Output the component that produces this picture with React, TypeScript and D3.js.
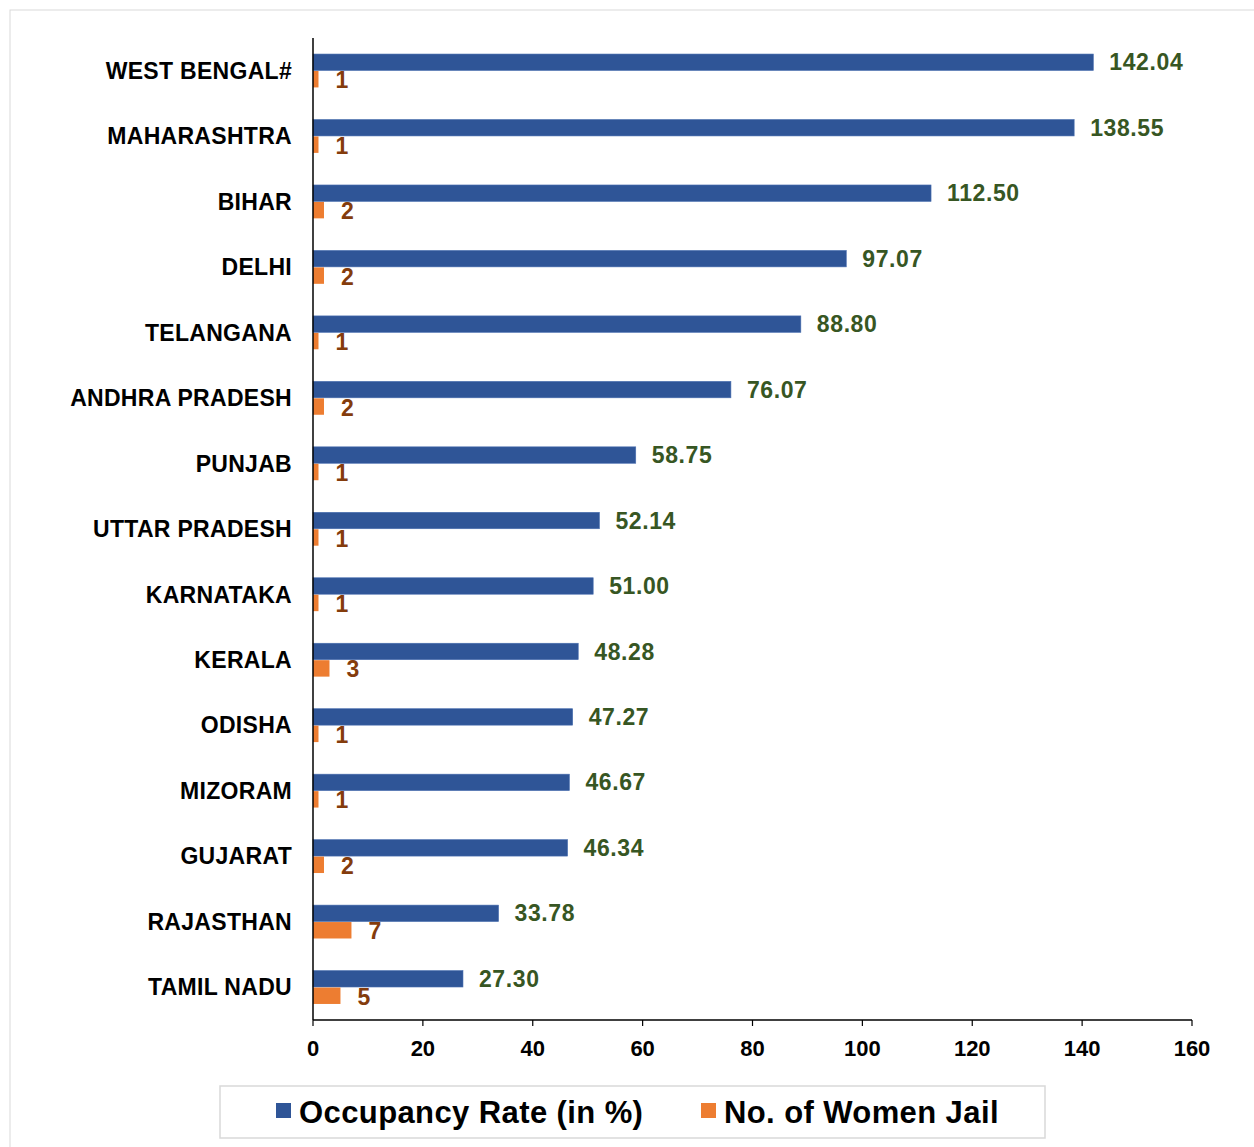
import React from "react";
import * as d3 from "d3";

const states = ["WEST BENGAL#","MAHARASHTRA","BIHAR","DELHI","TELANGANA","ANDHRA PRADESH","PUNJAB","UTTAR PRADESH","KARNATAKA","KERALA","ODISHA","MIZORAM","GUJARAT","RAJASTHAN","TAMIL NADU"];
const occupancy = [142.04,138.55,112.50,97.07,88.80,76.07,58.75,52.14,51.00,48.28,47.27,46.67,46.34,33.78,27.30];
const womenJails = [1,1,2,2,1,2,1,1,1,3,1,1,2,7,5];
const xTicks = [0,20,40,60,80,100,120,140,160];
const seriesNames = ["Occupancy Rate (in %)", "No. of Women Jail"];

const W = 1254, H = 1147;
const left = 313, right = 1192, top = 38, bottom = 1020;
const BLUE = "#2f5597", ORANGE = "#ed7d31";
const FONT = "'Liberation Sans', Arial, sans-serif";

export default function App() {
  const x = d3.scaleLinear().domain([0, 160]).range([left, right]);
  const y = d3.scaleBand().domain(states).range([top, bottom]).paddingInner(0.49).paddingOuter(0.245);
  const sub = d3.scaleBand().domain(["a","b"]).range([0, y.bandwidth()]).paddingInner(0.03);
  return (
    <svg width={W} height={H} style={{ position: "absolute", left: 0, top: 0, background: "#fff" }} fontFamily={FONT}>
      <rect x={10} y={10} width={1270} height={1160} fill="#fff" stroke="#d9d9d9" strokeWidth={1} />
      {states.map((s, i) => {
        const y0 = y(s)!;
        const ya = y0 + sub("a")!, yb = y0 + sub("b")!;
        const bh = sub.bandwidth();
        const cy = y0 + y.bandwidth() / 2;
        return (
          <g key={s}>
            <rect x={x(0)} y={ya} width={x(occupancy[i]) - x(0)} height={bh} fill={BLUE} stroke="#4a6fb0" strokeWidth={0.6} />
            <rect x={x(0)} y={yb} width={x(womenJails[i]) - x(0)} height={bh} fill={ORANGE} />
            <text x={x(occupancy[i]) + 16} y={ya + bh / 2} dy="0.35em" fontSize={23} letterSpacing={0.6} fontWeight="bold" fill="#375623">{occupancy[i].toFixed(2)}</text>
            <text x={x(womenJails[i]) + 17} y={yb + bh / 2 + 1} dy="0.35em" fontSize={23} fontWeight="bold" fill="#843c0c">{womenJails[i]}</text>
            <text x={292} y={cy} dy="0.35em" fontSize={23} letterSpacing={0.3} fontWeight="bold" textAnchor="end" fill="#000">{s}</text>
          </g>
        );
      })}
      <line x1={left} x2={left} y1={top} y2={bottom} stroke="#000" strokeWidth={1.5} />
      <line x1={left} x2={right} y1={bottom} y2={bottom} stroke="#000" strokeWidth={1.5} />
      {xTicks.map(t => (
        <g key={t}>
          <line x1={x(t)} x2={x(t)} y1={bottom} y2={bottom + 6} stroke="#000" strokeWidth={1.2} />
          <text x={x(t)} y={bottom + 28} dy="0.35em" textAnchor="middle" fontSize={22} fontWeight="bold">{t}</text>
        </g>
      ))}
      <rect x={220} y={1086} width={825} height={52} fill="#fff" stroke="#d9d9d9" strokeWidth={1.5} />
      <rect x={276} y={1103} width={15} height={15} fill={BLUE} />
      <text x={299} y={1112} dy="0.35em" fontSize={31} letterSpacing={0.4} fontWeight="bold">{seriesNames[0]}</text>
      <rect x={701} y={1103} width={15} height={15} fill={ORANGE} />
      <text x={724} y={1112} dy="0.35em" fontSize={31} letterSpacing={0.4} fontWeight="bold">{seriesNames[1]}</text>
    </svg>
  );
}
